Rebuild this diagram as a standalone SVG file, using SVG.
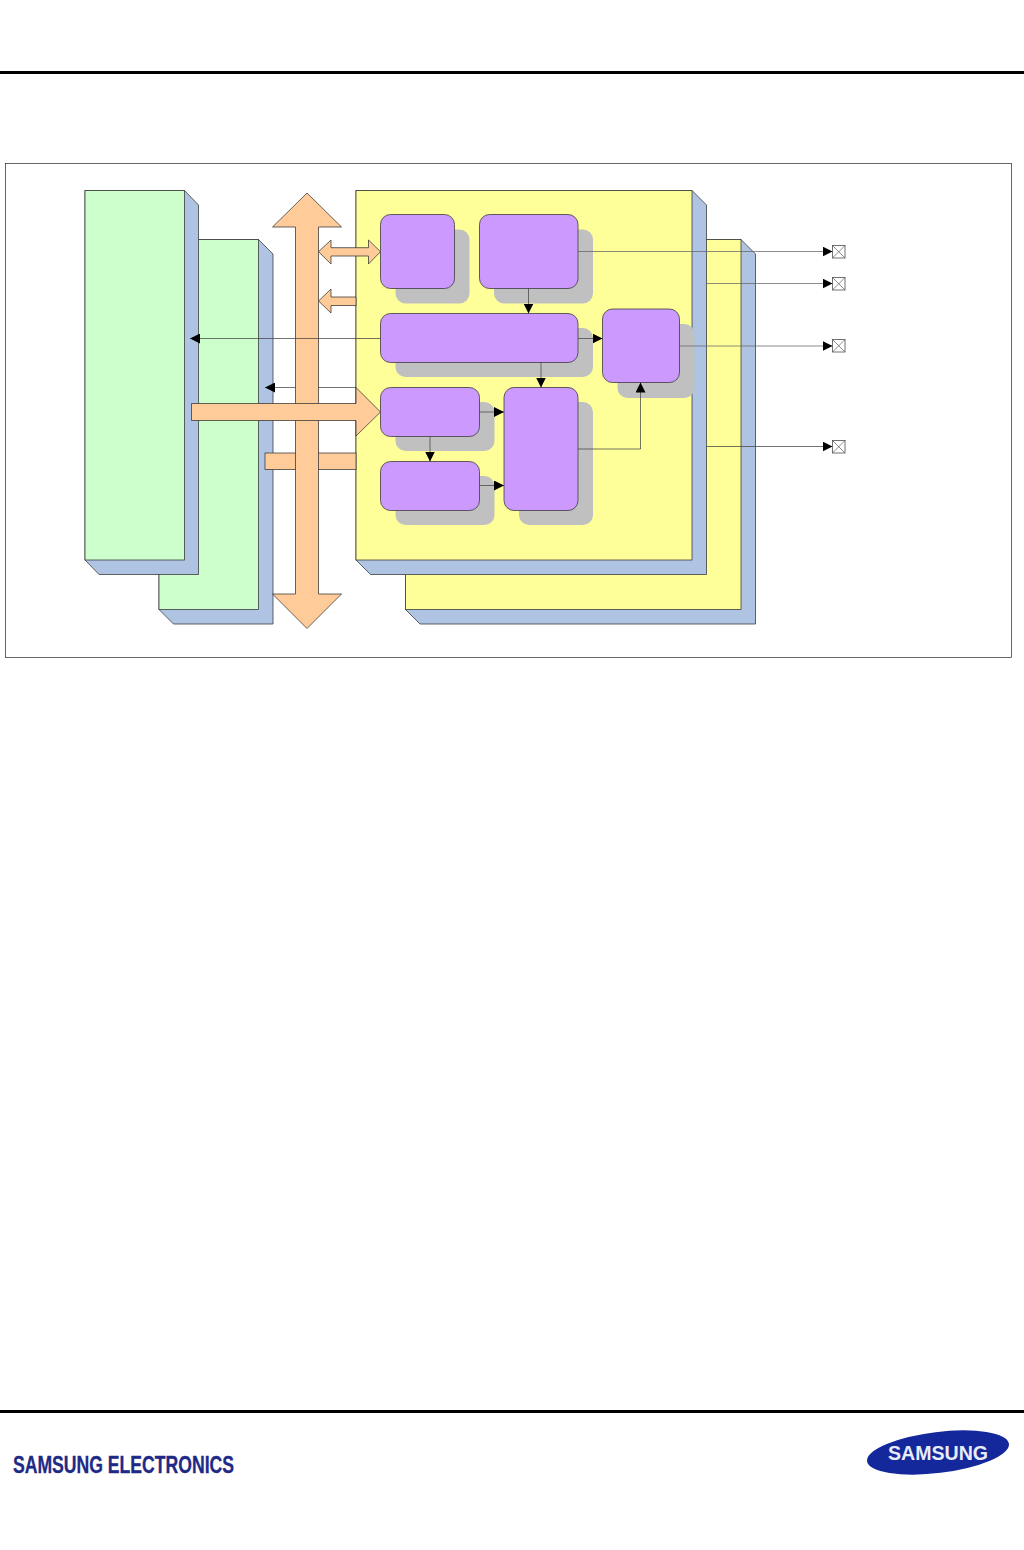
<svg xmlns="http://www.w3.org/2000/svg" width="1024" height="1550" viewBox="0 0 1024 1550">
<style>
.rule{fill:#000}
.frame{fill:#fff;stroke:#333;stroke-width:.75}
.side{fill:#afc4e3;stroke:#333;stroke-width:.75;stroke-linejoin:miter}
.green{fill:#ccffcc;stroke:#333;stroke-width:.75}
.yellow{fill:#ffff99;stroke:#333;stroke-width:.75}
.bus{fill:#ffcc99;stroke:#333;stroke-width:.75}
.shadow{fill:#c0c0c0}
.block{fill:#cc99ff;stroke:#333;stroke-width:.75}
.wire{fill:none;stroke:#444;stroke-width:.75}
.out{fill:none;stroke:#666;stroke-width:.75}
.pin{fill:#fff;stroke:#444;stroke-width:.75}
</style>
<defs>
<marker id="ah" markerUnits="userSpaceOnUse" markerWidth="11" markerHeight="10" refX="10" refY="5" orient="auto"><path d="M0,0 L10,5 L0,10 Z" fill="#000"/></marker>
</defs>
<rect class="rule" x="0" y="71" width="1024" height="3"/>
<rect class="frame" x="5.5" y="163.5" width="1006" height="494"/>
<g id="memory-back"><path class="side" d="M258.5,239.5 L273,254 V624 H173.5 L159,609.5 V239.5 Z"/><rect class="green" x="159" y="239.5" width="99.5" height="370"/></g>
<g id="memory-front"><path class="side" d="M184.5,190.5 L198.5,205 V574.5 H99 L85,560 V190.5 Z"/><rect class="green" x="85" y="190.5" width="99.5" height="369.5"/></g>
<g id="core-back"><path class="side" d="M741,239.5 L755.5,254 V624 H420 L405.5,609.5 V239.5 Z"/><rect class="yellow" x="405.5" y="239.5" width="335.5" height="370"/></g>
<g id="core-front"><path class="side" d="M692,190.5 L706.5,205 V574.5 H370.5 L356,560 V190.5 Z"/><rect class="yellow" x="356" y="190.5" width="336" height="369.5"/></g>
<g id="lower-bar"><rect class="bus" x="265" y="453" width="91" height="16.5"/></g>
<g id="thin-back"><path class="wire" d="M356,387.5 H265" marker-end="url(#ah)"/></g>
<g id="system-bus"><path class="bus" d="M307,193 L341.5,227 H318.5 V594 H341.5 L307,628.5 L272.5,594 H295.5 V227 H272.5 Z"/></g>
<g id="bus-double-arrow"><path class="bus" d="M318.5,251.7 L331,240 V247.7 H368.5 V240 L380.5,251.7 L368.5,264 V256 H331 V264 Z"/></g>
<g id="bus-left-arrow"><path class="bus" d="M318.5,301 L331,289 V297 H356 V305.5 H331 V313 Z"/></g>
<g id="bus-right-arrow"><path class="bus" d="M191.5,403.5 H356 V387.5 L380.5,412 L356,436 V420.5 H191.5 Z"/></g>
<g id="shadows">
<rect class="shadow" x="395.5" y="229.5" width="74" height="74" rx="10"/>
<rect class="shadow" x="494" y="229.5" width="99" height="74" rx="10"/>
<rect class="shadow" x="395.5" y="328" width="197.5" height="49" rx="10"/>
<rect class="shadow" x="395.5" y="402" width="99" height="49" rx="10"/>
<rect class="shadow" x="395.5" y="476" width="99" height="49" rx="10"/>
<rect class="shadow" x="519" y="402" width="74" height="123" rx="10"/>
<rect class="shadow" x="617.5" y="324" width="77" height="74" rx="10"/>
</g>
<g id="block-a"><rect class="block" x="380.5" y="214.5" width="74" height="74" rx="10"/></g>
<g id="block-b"><rect class="block" x="479.5" y="214.5" width="98.5" height="74" rx="10"/></g>
<g id="block-c"><rect class="block" x="380.5" y="313.5" width="197.5" height="49" rx="10"/></g>
<g id="block-d"><rect class="block" x="380.5" y="387.5" width="99" height="49" rx="10"/></g>
<g id="block-e"><rect class="block" x="380.5" y="461.5" width="99" height="49" rx="10"/></g>
<g id="block-f"><rect class="block" x="504" y="387.5" width="74" height="123" rx="10"/></g>
<g id="block-g"><rect class="block" x="602.5" y="309" width="77" height="73.5" rx="10"/></g>
<g id="connectors">
<path class="wire" d="M380.5,338.5 H190" marker-end="url(#ah)"/>
<path class="wire" d="M528.5,288.5 V313.5" marker-end="url(#ah)"/>
<path class="wire" d="M541,362.5 V387.5" marker-end="url(#ah)"/>
<path class="wire" d="M578,338.5 H602.5" marker-end="url(#ah)"/>
<path class="wire" d="M479.5,412 H504" marker-end="url(#ah)"/>
<path class="wire" d="M479.5,485.5 H504" marker-end="url(#ah)"/>
<path class="wire" d="M430,436.5 V461.5" marker-end="url(#ah)"/>
<path class="wire" d="M578,449 H640.5 V382.5" marker-end="url(#ah)"/>
<path class="out" d="M578,251.5 H832.5" marker-end="url(#ah)"/>
<path class="out" d="M706.5,283.5 H832.5" marker-end="url(#ah)"/>
<path class="out" d="M679.5,346 H832.5" marker-end="url(#ah)"/>
<path class="wire" d="M706.5,446.5 H832.5" marker-end="url(#ah)"/>
</g>
<g id="pin-1"><rect class="pin" x="832.5" y="245.5" width="12.5" height="12.5"/><path class="out" d="M832.5,245.5 L845,258 M845,245.5 L832.5,258"/></g>
<g id="pin-2"><rect class="pin" x="832.5" y="277.5" width="12.5" height="12.5"/><path class="out" d="M832.5,277.5 L845,290 M845,277.5 L832.5,290"/></g>
<g id="pin-3"><rect class="pin" x="832.5" y="339.5" width="12.5" height="12.5"/><path class="out" d="M832.5,339.5 L845,352 M845,339.5 L832.5,352"/></g>
<g id="pin-4"><rect class="pin" x="832.5" y="440.5" width="12.5" height="12.5"/><path class="out" d="M832.5,440.5 L845,453 M845,440.5 L832.5,453"/></g>
<rect class="rule" x="0" y="1410" width="1024" height="3"/>
<text x="13" y="1472.5" font-family="'Liberation Sans',Arial,sans-serif" font-weight="700" font-size="23" fill="#1f2a86" stroke="#1f2a86" stroke-width=".3" textLength="221" lengthAdjust="spacingAndGlyphs">SAMSUNG ELECTRONICS</text>
<g id="logo"><ellipse cx="938" cy="1452.5" rx="71.5" ry="20.5" transform="rotate(-7 938 1452.5)" fill="#14279b"/>
<text x="888" y="1460" font-family="'Liberation Sans',Arial,sans-serif" font-weight="700" font-size="21" fill="#e8ecf6" textLength="100" lengthAdjust="spacingAndGlyphs">SAMSUNG</text></g>
</svg>
